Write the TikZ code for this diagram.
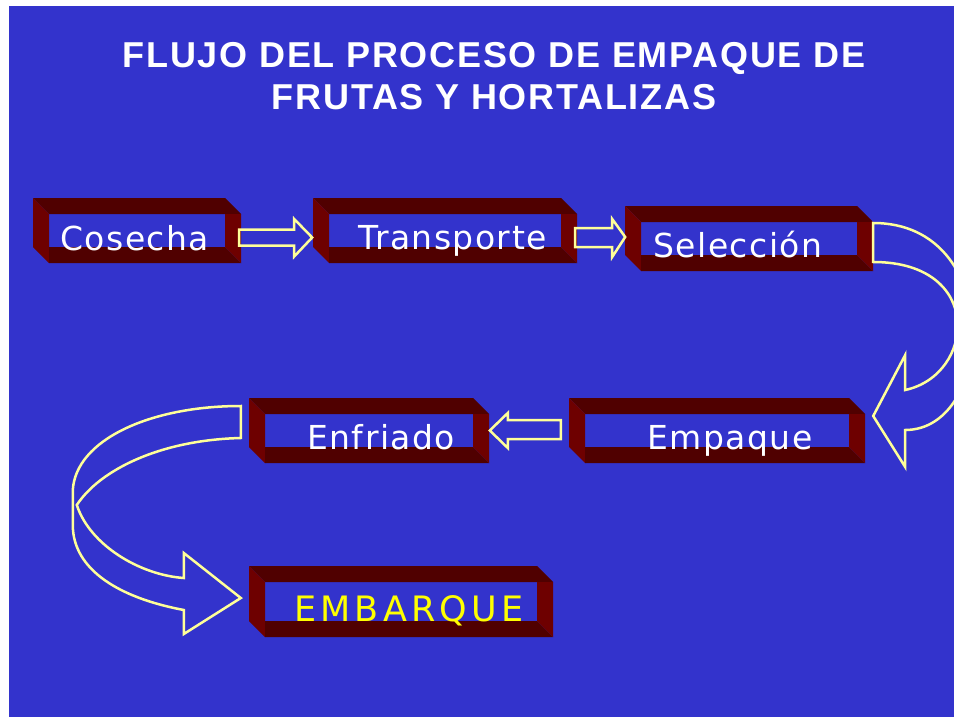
\documentclass[tikz,border=0pt]{standalone}
\usepackage{fontspec}
\newfontfamily\cajafont[LetterSpace=4.5]{DejaVu Sans}
\newfontfamily\embarquefont[LetterSpace=12]{DejaVu Sans}
\newfontfamily\titulofont[LetterSpace=4.8]{Liberation Sans}

\definecolor{azulfondo}{RGB}{51,51,204}
\definecolor{rojobanda}{RGB}{80,0,0}
\definecolor{rojolado}{RGB}{110,0,0}
\definecolor{amarillo}{RGB}{255,255,153}
\definecolor{amarillofuerte}{RGB}{255,255,0}

\tikzset{
    banda/.style={fill=rojobanda},
    lado/.style={fill=rojolado},
    flecha/.style={draw=amarillo, line width=2.5pt},
    etiqueta/.style={text=white, inner sep=0pt, anchor=base west,
        font={\cajafont\fontsize{33}{39}\selectfont}},
    titulo/.style={text=white, inner sep=0pt, anchor=base,
        font={\titulofont\bfseries\fontsize{36}{42}\selectfont}},
}

%% caja hueca: nombre, esquina de atras (x0,y0)-(x1,y1), fondo de 16
\newcommand\caja[5]{%
    \fill[banda] (#2,#3) -- (#4,#3) -- (#4+16,#3+16) -- (#2+16,#3+16) -- cycle;
    \fill[lado] (#2,#3) -- (#2+16,#3+16) -- (#2+16,#5+16) -- (#2,#5) -- cycle;
    \fill[banda] (#2+16,#5) -- (#4,#5) -- (#4+16,#5+16) -- (#2+16,#5+16) -- cycle;
    \fill[lado] (#4,#3+16) -- (#4+16,#3+16) -- (#4+16,#5+16) -- (#4,#5) -- cycle;
    \node[inner sep=0pt, minimum width={#4+16-#2}, minimum height={#5+16-#3}]
        (#1) at ({(#2+#4+16)/2},{(#3+#5+16)/2}) {};
}

\begin{document}
\begin{tikzpicture}[x=1pt, y=-1pt]%% start picture

    \useasboundingbox (0,0) rectangle (954,717);
    \fill[white] (0,0) rectangle (954,717);
    \fill[azulfondo] (9,6) rectangle (954,717);

        \node[titulo] (titulo) at (494,68) {FLUJO DEL PROCESO DE EMPAQUE DE};
        \node[titulo] (titulo b) at (494,110) {FRUTAS Y HORTALIZAS};


        \caja{cosecha}{33}{198}{225}{247}
        \caja{transporte}{313}{198}{561}{247}
        \caja{seleccion}{625}{206}{857}{255}
        \caja{empaque}{569}{398}{849}{447}
        \caja{enfriado}{249}{398}{473}{447}
        \caja{embarque}{249}{566}{537}{621}


    \begin{scope}
        \clip (9,6) rectangle (954,717);

            \draw[flecha, shift={(cosecha.east)}] (-2,-1) -- (53,-1) -- (53,-11.5)
                -- (71,7) -- (53,26) -- (53,15) -- (-2,15) -- cycle;

            \draw[flecha, shift={(transporte.east)}] (-2,-2.5) -- (35,-2.5) -- (35,-11.5)
                -- (48,6.5) -- (35,26.5) -- (35,16.5) -- (-2,16.5) -- cycle;

            \draw[flecha, shift={(seleccion.east)}] (0,-15.5)
                .. controls (132,-15.5) and (122,191.5) .. (32,191.5)
                -- (32,228.5) -- (0,177.5) -- (32,116.5) -- (32,151.5)
                .. controls (102,136.5) and (112,23.5) .. (0,23.5) -- cycle;

            \draw[flecha, shift={(empaque.west)}] (-8,-10.5) -- (-61,-10.5) -- (-61,-17.5)
                -- (-79,0) -- (-61,17.5) -- (-61,8.5) -- (-8,8.5) -- cycle;

            \draw[flecha, shift={(enfriado.west)}] (-8,-24.5) -- (-8,7.5)
                .. controls (-89,9.5) and (-149,39.5) .. (-172,74.5)
                .. controls (-159,114.5) and (-109,144.5) .. (-65,147.5)
                -- (-65,122.5) -- (-8,167.5) -- (-65,203.5) -- (-65,179.5)
                .. controls (-129,167.5) and (-176,139.5) .. (-176,94.5)
                -- (-176,59.5)
                .. controls (-173,9.5) and (-99,-24.5) .. (-8,-24.5) -- cycle;
    \end{scope}


        \node[etiqueta] (t cosecha) at (60,250) {Cosecha};
        \node[etiqueta] (t transporte) at (358,249) {Transporte};
        \node[etiqueta] (t seleccion) at (653,257) {Selección};
        \node[etiqueta] (t empaque) at (647,449) {Empaque};
        \node[etiqueta] (t enfriado) at (307,449) {Enfriado};
        \node[etiqueta, text=amarillofuerte, font={\embarquefont\fontsize{35}{42}\selectfont}]
            (t embarque) at (294,621) {EMBARQUE};

\end{tikzpicture}
\end{document}
